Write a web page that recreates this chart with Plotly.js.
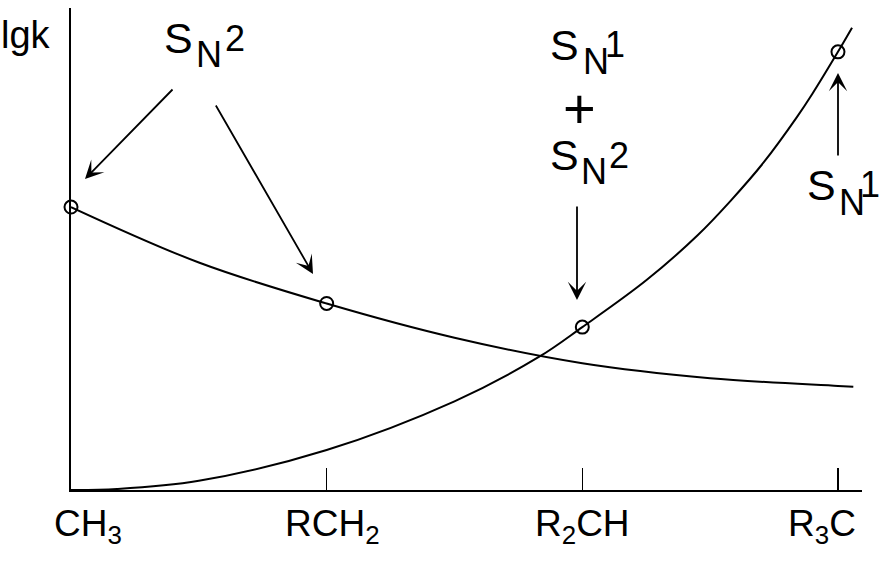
<!DOCTYPE html>
<html>
<head>
<meta charset="utf-8">
<script src="https://cdn.plot.ly/plotly-3.0.1.min.js"></script>
<style>html,body{margin:0;padding:0;background:#fff;}#chart{width:889px;height:563px;}</style>
</head>
<body>
<div id="chart"></div>
<script>
// ---- data ----
var categories = ['CH<sub>3</sub>', 'RCH<sub>2</sub>', 'R<sub>2</sub>CH', 'R<sub>3</sub>C'];
var categoryPos = [0, 1, 2, 3];

// S_N2 curve (lg k)
var sn2X = [0, 0.5, 1.0, 1.5, 2.0, 2.5, 3.0, 3.06];
var sn2Y = [5.87, 4.72, 3.87, 3.16, 2.63, 2.32, 2.16, 2.14];

// S_N1 curve (lg k)
var sn1X = [0, 0.18, 0.5, 1.0, 1.5, 1.83, 2.0, 2.25, 2.45, 2.58, 2.71, 2.84, 2.9, 3.0, 3.055];
var sn1Y = [0, 0.02, 0.19, 0.83, 1.84, 2.76, 3.38, 4.35, 5.28, 6.0, 6.8, 7.74, 8.22, 9.09, 9.59];

// marked points ("o")
var sn2PointsX = [0, 1];
var sn2PointsY = [5.87, 3.87];
var sn1PointsX = [2, 3];
var sn1PointsY = [3.38, 9.09];

// ---- layout helpers (pixel -> paper units, for labels/arrows only) ----
var L = 71, T = 8, W = 791, H = 482;
var XMAX = 3.094, YMAX = 10;
function px2p(px) { return (px - L) / W; }
function py2p(py) { return (T + H - py) / H; }

var FONT = 'Liberation Sans, Arial, Helvetica, sans-serif';
var FS = 36;
var FS_S = 43;

function label(txt, px, py, size) {
  return {
    x: px2p(px), y: py2p(py), xref: 'paper', yref: 'paper',
    text: txt, showarrow: false, xanchor: 'center', yanchor: 'middle',
    font: {family: FONT, size: size || FS, color: '#000'}
  };
}
function arrow(tailPx, tailPy, tipPx, tipPy) {
  return {
    x: px2p(tipPx), y: py2p(tipPy), xref: 'paper', yref: 'paper',
    ax: tailPx - tipPx, ay: tailPy - tipPy,
    text: '', showarrow: true, arrowhead: 3, arrowsize: 1.7, arrowwidth: 1.8,
    arrowcolor: '#000', standoff: 0
  };
}

var annotations = [
  label('lgk', 26, 35, 38),
  // S_N2 top-left
  label('S', 178, 38, FS_S), label('N', 209, 55), label('2', 235, 38),
  // S_N1 + S_N2 middle
  label('S', 564, 45, FS_S), label('N', 596, 61), label('1', 615, 45),
  label('+', 579, 108, 56),
  label('S', 564, 155, FS_S), label('N', 594, 171), label('2', 619, 155),
  // S_N1 right
  label('S', 821, 185, FS_S), label('N', 852, 202), label('1', 870, 184)
];
annotations.push(
  arrow(174, 88, 85, 179),
  arrow(215, 104, 313, 274),
  arrow(577, 205, 577, 300),
  arrow(838, 157, 838, 73)
);

// category labels below axis
var labelShift = [17, 6, 0, -16];
for (var i = 0; i < categories.length; i++) {
  annotations.push({
    x: categoryPos[i], y: py2p(526), xref: 'x', yref: 'paper',
    text: categories[i], showarrow: false, xanchor: 'center', yanchor: 'middle',
    xshift: labelShift[i],
    font: {family: FONT, size: 37, color: '#000'}
  });
}

var lineStyle = {color: '#000', width: 2, shape: 'spline', smoothing: 1};
var markerStyle = {symbol: 'circle-open', size: 13, color: '#000', line: {width: 2, color: '#000'}};

var traces = [
  {x: sn2X, y: sn2Y, mode: 'lines', line: lineStyle, cliponaxis: false, hoverinfo: 'skip'},
  {x: sn1X, y: sn1Y, mode: 'lines', line: lineStyle, cliponaxis: false, hoverinfo: 'skip'},
  {x: sn2PointsX, y: sn2PointsY, mode: 'markers', marker: markerStyle, cliponaxis: false, hoverinfo: 'skip'},
  {x: sn1PointsX, y: sn1PointsY, mode: 'markers', marker: markerStyle, cliponaxis: false, hoverinfo: 'skip'}
];

var layout = {
  width: 889, height: 563,
  margin: {l: L, r: 889 - L - W, t: T, b: 563 - T - H, pad: 0},
  paper_bgcolor: '#fff', plot_bgcolor: '#fff',
  showlegend: false,
  font: {family: FONT, color: '#000'},
  xaxis: {
    range: [0, XMAX], showgrid: false, zeroline: false,
    showline: true, linecolor: '#000', linewidth: 2,
    ticks: 'inside', tickvals: [1, 2, 3], ticklen: 22, tickwidth: 1.5, tickcolor: '#000',
    showticklabels: false, fixedrange: true
  },
  yaxis: {
    range: [0, YMAX], showgrid: false, zeroline: false,
    showline: true, linecolor: '#000', linewidth: 2,
    ticks: '', showticklabels: false, fixedrange: true
  },
  annotations: annotations
};

Plotly.newPlot('chart', traces, layout, {displayModeBar: false, staticPlot: true});
</script>
</body>
</html>
